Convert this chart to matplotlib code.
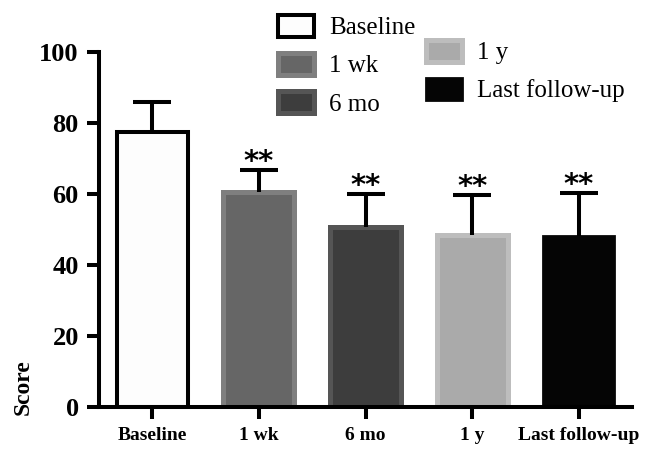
import numpy as np
import matplotlib
matplotlib.use("Agg")
import matplotlib.pyplot as plt
from matplotlib.patches import Patch

# --- data ---
groups = ["Baseline", "1 wk", "6 mo", "1 y", "Last follow-up"]
means = [77.6, 60.6, 50.8, 48.5, 48.2]
errors = [8.3, 6.2, 9.2, 11.1, 12.2]
stars = ["", "**", "**", "**", "**"]
y_ticks = [0, 20, 40, 60, 80, 100]

face_colors = ["#fdfdfd", "#666666", "#3d3d3d", "#aaaaaa", "#050505"]
edge_colors = ["#000000", "#7f7f7f", "#555555", "#bdbdbd", "#050505"]
edge_widths = [2.9, 3.6, 3.6, 3.6, 2.0]

serif = ["Liberation Serif", "DejaVu Serif"]

fig = plt.figure(figsize=(6.53, 4.51), dpi=100)
ax = fig.add_axes([99 / 653, 1 - 407 / 451, 533 / 653, 355 / 451])

x = np.arange(len(groups))
ax.bar(x, means, width=0.665, color=face_colors, edgecolor=edge_colors,
       linewidth=edge_widths, zorder=2)

# upper error only: hide the lower cap
_, caps, _ = ax.errorbar(x, means, yerr=[np.zeros(len(means)), errors],
                         fmt='none', ecolor='black', elinewidth=2.9,
                         capsize=13.7, capthick=2.9, zorder=3)
caps[0].set_visible(False)

for xi, m, e, s in zip(x, means, errors, stars):
    if s:
        ax.annotate(s, (xi, m + e), xytext=(0, 0), textcoords='offset points',
                    ha='center', va='baseline', fontsize=21, fontweight='bold',
                    family='DejaVu Sans', zorder=4)

ax.set_xlim(-0.5, 4.5)
ax.set_ylim(0, 100)
ax.set_yticks(y_ticks)
ax.set_xticks(x)
ax.set_xticklabels(groups, fontsize=14, fontweight='bold', family=serif)
for lab in ax.get_yticklabels():
    lab.set_fontsize(19)
    lab.set_fontweight('bold')
    lab.set_family(serif)

for side in ['top', 'right']:
    ax.spines[side].set_visible(False)
for side in ['left', 'bottom']:
    ax.spines[side].set_linewidth(2.9)
ax.tick_params(axis='y', direction='out', length=8.5, width=2.9, pad=6)
ax.tick_params(axis='x', direction='out', length=8.5, width=2.9, pad=6)

ax.set_ylabel("Score", fontsize=17, fontweight='bold', family=serif)
ax.yaxis.set_label_coords(-0.122, 0.057)

# legend in two columns, as in the reference
handles = [Patch(facecolor=fc, edgecolor=ec, linewidth=lw)
           for fc, ec, lw in zip(face_colors, edge_colors, edge_widths)]
leg_kw = dict(frameon=False, borderpad=0, borderaxespad=0, handlelength=1.45,
              handleheight=0.95, handletextpad=0.6, labelspacing=0.55,
              prop={'family': serif, 'size': 18},
              bbox_transform=fig.transFigure, loc='upper left')
leg1 = ax.legend(handles[:3], groups[:3],
                 bbox_to_anchor=(278 / 653, 1 - 15 / 451), **leg_kw)
ax.add_artist(leg1)
ax.legend(handles[3:], groups[3:],
          bbox_to_anchor=(426 / 653, 1 - 40 / 451), **leg_kw)

fig.savefig("out.png", dpi=100)
